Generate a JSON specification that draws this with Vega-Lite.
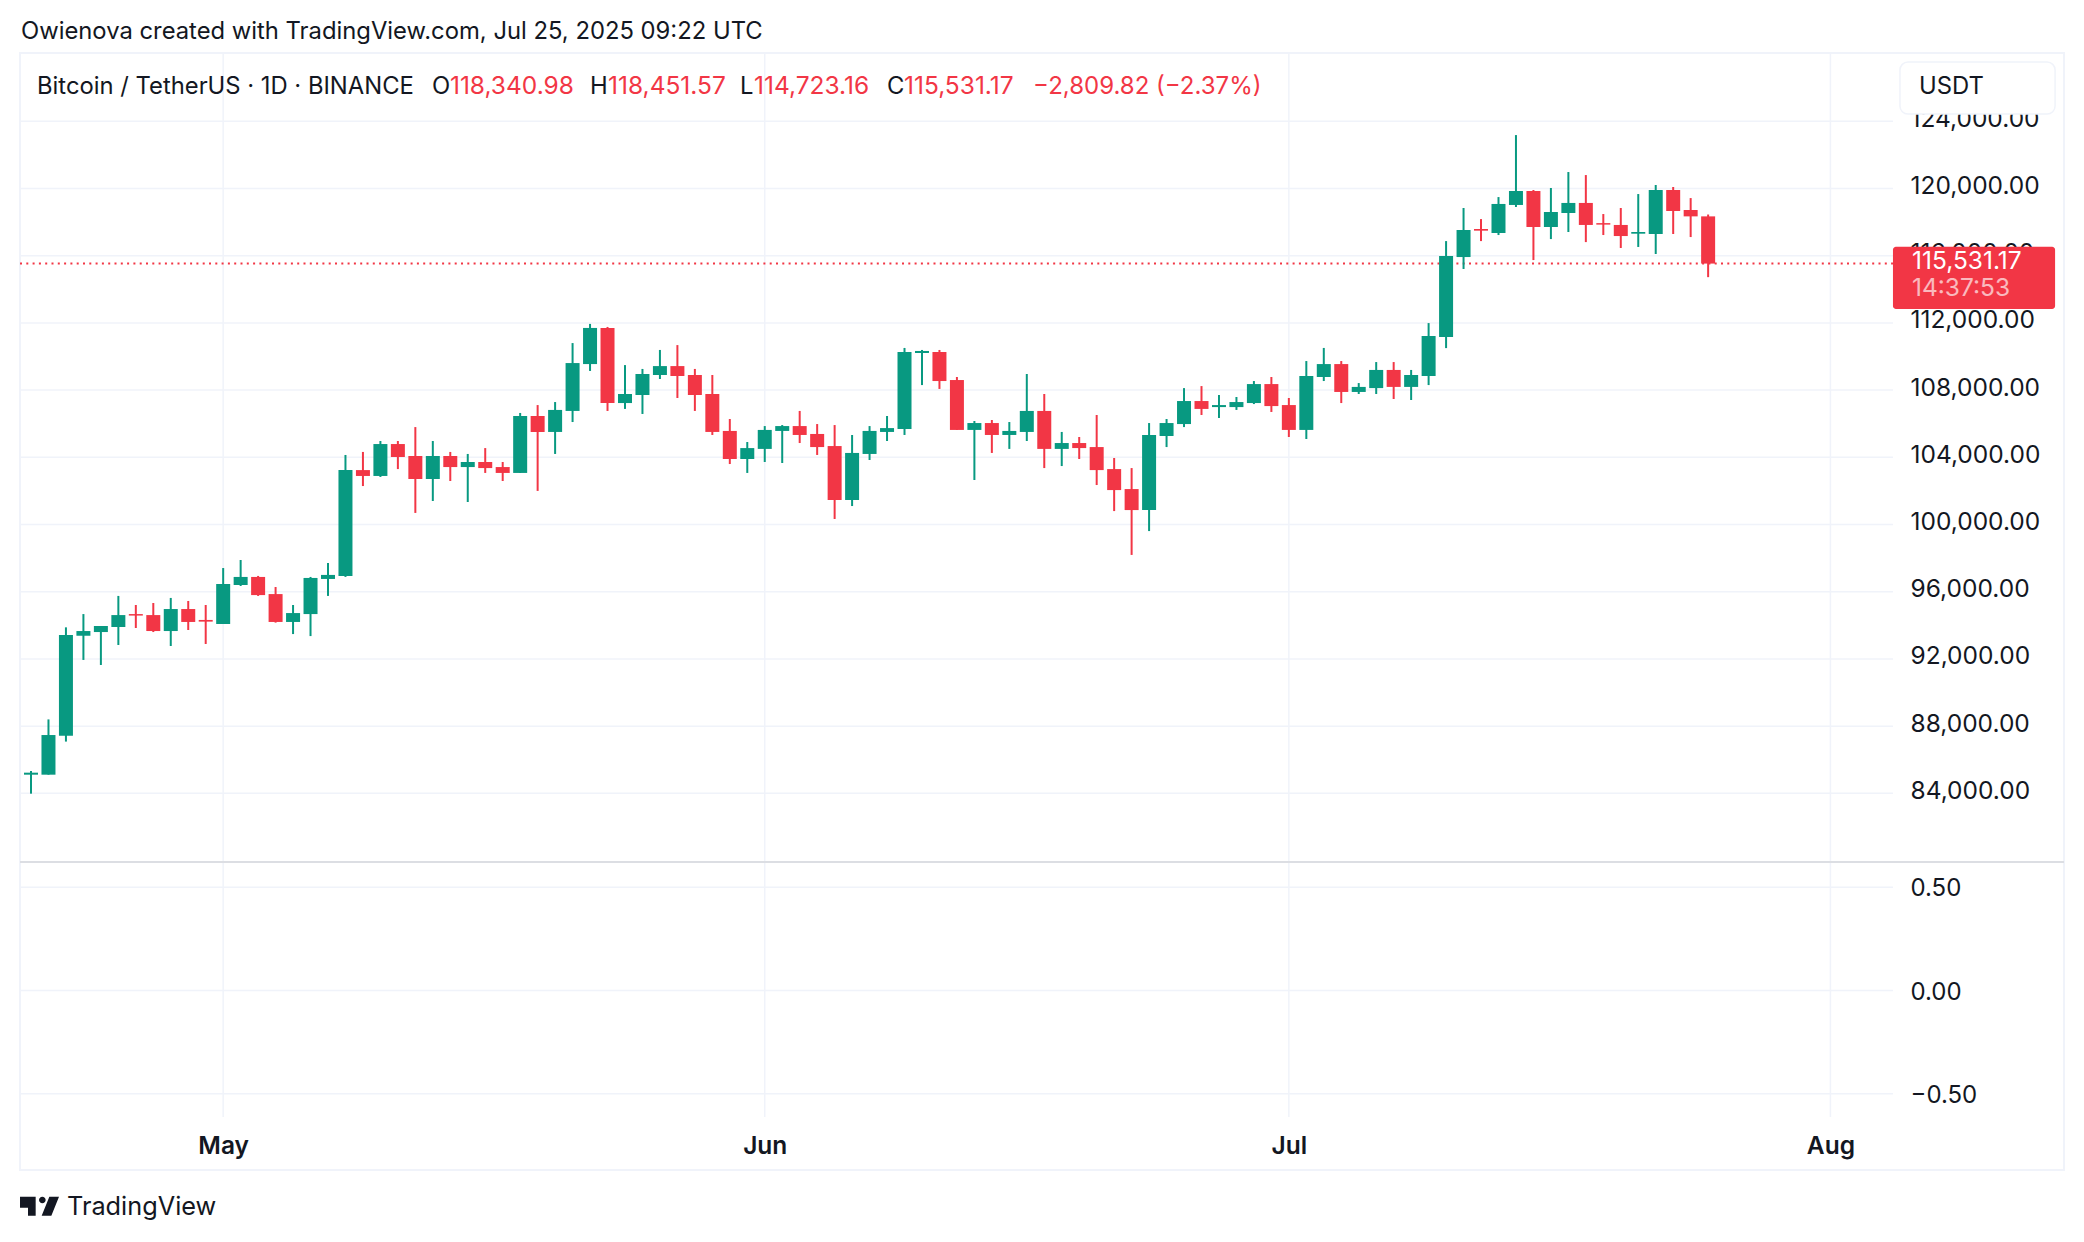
{
  "$schema": "https://vega.github.io/schema/vega-lite/v6.json",
  "background": "white",
  "padding": {"left": 18, "top": 19, "right": 19, "bottom": 20},
  "spacing": 0,
  "bounds": "flush",
  "config": {
    "view": {"stroke": "#f0f3fa", "strokeWidth": 2},
    "font": "Inter",
    "text": {"font": "Inter", "fontSize": 23.8, "color": "#131722", "align": "left", "baseline": "middle"}
  },
  "datasets": {
    "candles": [
      {"date":"2025-04-20","open":85110,"high":85330,"low":83980,"close":85230},
      {"date":"2025-04-21","open":85110,"high":88400,"low":85110,"close":87470},
      {"date":"2025-04-22","open":87430,"high":93880,"low":87080,"close":93420},
      {"date":"2025-04-23","open":93380,"high":94670,"low":91940,"close":93660},
      {"date":"2025-04-24","open":93600,"high":93960,"low":91640,"close":93960},
      {"date":"2025-04-25","open":93900,"high":95750,"low":92830,"close":94610},
      {"date":"2025-04-26","open":94670,"high":95210,"low":93840,"close":94580},
      {"date":"2025-04-27","open":94610,"high":95330,"low":93600,"close":93660},
      {"date":"2025-04-28","open":93660,"high":95630,"low":92770,"close":94970},
      {"date":"2025-04-29","open":94970,"high":95450,"low":93720,"close":94200},
      {"date":"2025-04-30","open":94320,"high":95210,"low":92890,"close":94220},
      {"date":"2025-05-01","open":94080,"high":97410,"low":94080,"close":96460},
      {"date":"2025-05-02","open":96400,"high":97890,"low":96340,"close":96880},
      {"date":"2025-05-03","open":96880,"high":96940,"low":95750,"close":95800},
      {"date":"2025-05-04","open":95860,"high":96280,"low":94160,"close":94200},
      {"date":"2025-05-05","open":94200,"high":95210,"low":93480,"close":94730},
      {"date":"2025-05-06","open":94670,"high":96880,"low":93360,"close":96820},
      {"date":"2025-05-07","open":96760,"high":97710,"low":95750,"close":97000},
      {"date":"2025-05-08","open":96940,"high":104140,"low":96880,"close":103240},
      {"date":"2025-05-09","open":103240,"high":104320,"low":102290,"close":102890},
      {"date":"2025-05-10","open":102890,"high":104970,"low":102830,"close":104790},
      {"date":"2025-05-11","open":104790,"high":104970,"low":103300,"close":104020},
      {"date":"2025-05-12","open":104080,"high":105800,"low":100690,"close":102710},
      {"date":"2025-05-13","open":102710,"high":104970,"low":101400,"close":104080},
      {"date":"2025-05-14","open":104080,"high":104320,"low":102590,"close":103420},
      {"date":"2025-05-15","open":103420,"high":104200,"low":101340,"close":103720},
      {"date":"2025-05-16","open":103720,"high":104550,"low":103070,"close":103360},
      {"date":"2025-05-17","open":103420,"high":103720,"low":102590,"close":103070},
      {"date":"2025-05-18","open":103070,"high":106640,"low":103070,"close":106460},
      {"date":"2025-05-19","open":106460,"high":107110,"low":102000,"close":105510},
      {"date":"2025-05-20","open":105510,"high":107290,"low":104200,"close":106820},
      {"date":"2025-05-21","open":106760,"high":110800,"low":106100,"close":109610},
      {"date":"2025-05-22","open":109550,"high":111940,"low":109140,"close":111700},
      {"date":"2025-05-23","open":111700,"high":111760,"low":106760,"close":107230},
      {"date":"2025-05-24","open":107230,"high":109490,"low":106880,"close":107770},
      {"date":"2025-05-25","open":107710,"high":109260,"low":106580,"close":108960},
      {"date":"2025-05-26","open":108900,"high":110390,"low":108660,"close":109430},
      {"date":"2025-05-27","open":109430,"high":110680,"low":107530,"close":108840},
      {"date":"2025-05-28","open":108900,"high":109260,"low":106760,"close":107710},
      {"date":"2025-05-29","open":107770,"high":108900,"low":105330,"close":105510},
      {"date":"2025-05-30","open":105570,"high":106280,"low":103600,"close":103900},
      {"date":"2025-05-31","open":103900,"high":104910,"low":103070,"close":104550},
      {"date":"2025-06-01","open":104500,"high":105860,"low":103720,"close":105630},
      {"date":"2025-06-02","open":105570,"high":105920,"low":103660,"close":105860},
      {"date":"2025-06-03","open":105860,"high":106760,"low":104850,"close":105330},
      {"date":"2025-06-04","open":105390,"high":105980,"low":104140,"close":104610},
      {"date":"2025-06-05","open":104670,"high":105920,"low":100330,"close":101460},
      {"date":"2025-06-06","open":101460,"high":105330,"low":101100,"close":104260},
      {"date":"2025-06-07","open":104200,"high":105860,"low":103840,"close":105570},
      {"date":"2025-06-08","open":105510,"high":106460,"low":104970,"close":105740},
      {"date":"2025-06-09","open":105690,"high":110510,"low":105330,"close":110270},
      {"date":"2025-06-10","open":110210,"high":110390,"low":108300,"close":110330},
      {"date":"2025-06-11","open":110270,"high":110390,"low":108070,"close":108540},
      {"date":"2025-06-12","open":108600,"high":108780,"low":105630,"close":105630},
      {"date":"2025-06-13","open":105630,"high":106160,"low":102650,"close":106040},
      {"date":"2025-06-14","open":106040,"high":106220,"low":104260,"close":105330},
      {"date":"2025-06-15","open":105330,"high":106100,"low":104500,"close":105570},
      {"date":"2025-06-16","open":105510,"high":108960,"low":104970,"close":106760},
      {"date":"2025-06-17","open":106760,"high":107770,"low":103360,"close":104500},
      {"date":"2025-06-18","open":104500,"high":105510,"low":103480,"close":104850},
      {"date":"2025-06-19","open":104850,"high":105210,"low":103900,"close":104550},
      {"date":"2025-06-20","open":104610,"high":106520,"low":102350,"close":103240},
      {"date":"2025-06-21","open":103300,"high":103960,"low":100800,"close":102050},
      {"date":"2025-06-22","open":102110,"high":103360,"low":98190,"close":100860},
      {"date":"2025-06-23","open":100860,"high":106040,"low":99610,"close":105330},
      {"date":"2025-06-24","open":105270,"high":106280,"low":104610,"close":106040},
      {"date":"2025-06-25","open":105980,"high":108120,"low":105800,"close":107350},
      {"date":"2025-06-26","open":107350,"high":108240,"low":106520,"close":106880},
      {"date":"2025-06-27","open":106990,"high":107710,"low":106340,"close":107110},
      {"date":"2025-06-28","open":106990,"high":107590,"low":106820,"close":107290},
      {"date":"2025-06-29","open":107230,"high":108540,"low":107170,"close":108360},
      {"date":"2025-06-30","open":108360,"high":108780,"low":106700,"close":107050},
      {"date":"2025-07-01","open":107110,"high":107530,"low":105210,"close":105630},
      {"date":"2025-07-02","open":105630,"high":109730,"low":105090,"close":108840},
      {"date":"2025-07-03","open":108780,"high":110510,"low":108540,"close":109550},
      {"date":"2025-07-04","open":109550,"high":109730,"low":107230,"close":107890},
      {"date":"2025-07-05","open":107890,"high":108420,"low":107770,"close":108190},
      {"date":"2025-07-06","open":108120,"high":109670,"low":107770,"close":109200},
      {"date":"2025-07-07","open":109200,"high":109670,"low":107470,"close":108190},
      {"date":"2025-07-08","open":108190,"high":109200,"low":107410,"close":108900},
      {"date":"2025-07-09","open":108840,"high":111990,"low":108300,"close":111220},
      {"date":"2025-07-10","open":111160,"high":116870,"low":110500,"close":115980},
      {"date":"2025-07-11","open":115920,"high":118840,"low":115210,"close":117530},
      {"date":"2025-07-12","open":117590,"high":118180,"low":116870,"close":117490},
      {"date":"2025-07-13","open":117350,"high":119490,"low":117230,"close":119080},
      {"date":"2025-07-14","open":119020,"high":123180,"low":118900,"close":119850},
      {"date":"2025-07-15","open":119850,"high":119910,"low":115740,"close":117710},
      {"date":"2025-07-16","open":117710,"high":120030,"low":116990,"close":118600},
      {"date":"2025-07-17","open":118540,"high":120980,"low":117410,"close":119140},
      {"date":"2025-07-18","open":119140,"high":120800,"low":116810,"close":117830},
      {"date":"2025-07-19","open":117940,"high":118480,"low":117230,"close":117850},
      {"date":"2025-07-20","open":117830,"high":118840,"low":116460,"close":117170},
      {"date":"2025-07-21","open":117310,"high":119670,"low":116520,"close":117410},
      {"date":"2025-07-22","open":117290,"high":120210,"low":116100,"close":119910},
      {"date":"2025-07-23","open":119910,"high":120090,"low":117290,"close":118660},
      {"date":"2025-07-24","open":118720,"high":119430,"low":117110,"close":118340.98},
      {"date":"2025-07-25","open":118340.98,"high":118451.57,"low":114723.16,"close":115531.17}
    ],
    "months": [{"date":"2025-05-01"},{"date":"2025-06-01"},{"date":"2025-07-01"},{"date":"2025-08-01"}],
    "priceLevels": [{"price":84000},{"price":88000},{"price":92000},{"price":96000},{"price":100000},{"price":104000},{"price":108000},{"price":112000},{"price":116000},{"price":120000},{"price":124000}],
    "lowerLevels": [{"level":0.5},{"level":0},{"level":-0.5}]
  },
  "vconcat": [
    {
      "width": 2044,
      "height": 809,
      "layer": [
        {
          "data": {"name": "priceLevels"},
          "mark": {"type": "rule", "color": "#f0f3fa", "strokeWidth": 1.5},
          "encoding": {
            "x": {"datum": {"year":2025,"month":4,"date":19,"hours":8,"minutes":53,"utc":true}, "type": "temporal", "axis": null, "scale": {"type": "utc", "nice": false, "padding": 0, "domain": ["2025-04-19T08:53:00Z", "2025-08-14T08:53:00Z"]}},
            "x2": {"datum": {"year":2025,"month":8,"date":4,"hours":13,"minutes":55,"utc":true}},
            "y": {
              "field": "price", "type": "quantitative",
              "scale": {"domain": [79913, 128065], "nice": false, "zero": false},
              "axis": {"orient": "right", "offset": -154, "title": null, "values": [84000,88000,92000,96000,100000,104000,108000,112000,116000,120000,124000], "format": ",.2f", "grid": false, "ticks": false, "domain": false, "labelPadding": 0, "labelAlign": "left", "labelFont": "Inter", "labelFontSize": 24.5, "labelColor": "#131722", "labelOffset": -2, "labelOverlap": false, "labelBound": false, "labelFlush": false}
            }
          }
        },
        {
          "data": {"name": "months"},
          "mark": {"type": "rule", "color": "#f0f3fa", "strokeWidth": 1.5},
          "encoding": {"x": {"field": "date", "type": "temporal", "axis": null}}
        },
        {
          "data": {"values": [{"price": 115531.17}]},
          "mark": {"type": "rule", "color": "#F23645", "strokeWidth": 2, "strokeDash": [2, 4.3]},
          "encoding": {
            "x": {"datum": {"year":2025,"month":4,"date":19,"hours":8,"minutes":53,"utc":true}, "type": "temporal", "axis": null},
            "x2": {"datum": {"year":2025,"month":8,"date":4,"hours":13,"minutes":55,"utc":true}},
            "y": {"field": "price", "type": "quantitative", "title": null}
          }
        },
        {
          "data": {"name": "candles"},
          "mark": {"type": "rule", "strokeWidth": 2},
          "encoding": {
            "x": {"field": "date", "type": "temporal", "axis": null},
            "y": {"field": "low", "type": "quantitative", "title": null},
            "y2": {"field": "high"},
            "color": {"condition": {"test": "datum.close >= datum.open", "value": "#089981"}, "value": "#F23645"}
          }
        },
        {
          "data": {"name": "candles"},
          "mark": {"type": "bar", "size": 14},
          "encoding": {
            "x": {"field": "date", "type": "temporal", "axis": null},
            "y": {"field": "open", "type": "quantitative", "title": null},
            "y2": {"field": "close"},
            "color": {"condition": {"test": "datum.close >= datum.open", "value": "#089981"}, "value": "#F23645"}
          }
        },
        {
          "data": {"values": [{"label": "USDT box"}]},
          "mark": {"type": "rect", "fill": "white", "stroke": "#f0f3fa", "strokeWidth": 1.5, "cornerRadius": 8},
          "encoding": {
            "x": {"datum": {"year":2025,"month":8,"date":4,"hours":23,"minutes":31,"utc":true}, "type": "temporal", "axis": null},
            "x2": {"datum": {"year":2025,"month":8,"date":13,"hours":20,"minutes":38,"utc":true}},
            "y": {"datum": 127528, "title": null},
            "y2": {"datum": 124433}
          }
        },
        {
          "data": {"values": [{"label": "USDT"}]},
          "mark": {"type": "text"},
          "encoding": {"x": {"datum": {"year":2025,"month":8,"date":6,"hours":1,"minutes":41,"utc":true}, "type": "temporal", "axis": null}, "y": {"datum": 126040, "title": null}, "text": {"field": "label"}}
        },
        {
          "data": {"values": [{"label": "last price tag"}]},
          "mark": {"type": "rect", "fill": "#F23645", "cornerRadius": 3},
          "encoding": {
            "x": {"datum": {"year":2025,"month":8,"date":4,"hours":13,"minutes":55,"utc":true}, "type": "temporal", "axis": null},
            "x2": {"datum": {"year":2025,"month":8,"date":13,"hours":20,"minutes":38,"utc":true}},
            "y": {"datum": 116535, "title": null},
            "y2": {"datum": 112827}
          }
        },
        {
          "data": {"values": [{"label": "115,531.17"}]},
          "mark": {"type": "text", "color": "white", "fontSize": 24.5},
          "encoding": {"x": {"datum": {"year":2025,"month":8,"date":5,"hours":16,"minutes":5,"utc":true}, "type": "temporal", "axis": null}, "y": {"datum": 115642, "title": null}, "text": {"field": "label"}}
        },
        {
          "data": {"values": [{"label": "14:37:53"}]},
          "mark": {"type": "text", "color": "white", "opacity": 0.65, "fontSize": 24.5},
          "encoding": {"x": {"datum": {"year":2025,"month":8,"date":5,"hours":16,"minutes":5,"utc":true}, "type": "temporal", "axis": null}, "y": {"datum": 114017, "title": null}, "text": {"field": "label"}}
        },
        {
          "data": {"values": [{"label": "Owienova created with TradingView.com, Jul 25, 2025 09:22 UTC"}]},
          "mark": {"type": "text"},
          "encoding": {"x": {"datum": {"year":2025,"month":4,"date":19,"hours":10,"minutes":16,"utc":true}, "type": "temporal", "axis": null}, "y": {"datum": 129313, "title": null}, "text": {"field": "label"}}
        },
        {
          "data": {"values": [{"label": "Bitcoin / TetherUS · 1D · BINANCE"}]},
          "mark": {"type": "text"},
          "encoding": {"x": {"datum": {"year":2025,"month":4,"date":20,"hours":8,"minutes":14,"utc":true}, "type": "temporal", "axis": null}, "y": {"datum": 126040, "title": null}, "text": {"field": "label"}}
        },
        {
          "data": {"values": [{"label": "O"}]},
          "mark": {"type": "text"},
          "encoding": {"x": {"datum": {"year":2025,"month":5,"date":12,"hours":22,"minutes":48,"utc":true}, "type": "temporal", "axis": null}, "y": {"datum": 126040, "title": null}, "text": {"field": "label"}}
        },
        {
          "data": {"values": [{"label": "118,340.98"}]},
          "mark": {"type": "text", "color": "#F23645", "fontSize": 24.5},
          "encoding": {"x": {"datum": {"year":2025,"month":5,"date":13,"hours":23,"minutes":31,"utc":true}, "type": "temporal", "axis": null}, "y": {"datum": 126040, "title": null}, "text": {"field": "label"}}
        },
        {
          "data": {"values": [{"label": "H"}]},
          "mark": {"type": "text"},
          "encoding": {"x": {"datum": {"year":2025,"month":5,"date":22,"hours":0,"minutes":0,"utc":true}, "type": "temporal", "axis": null}, "y": {"datum": 126040, "title": null}, "text": {"field": "label"}}
        },
        {
          "data": {"values": [{"label": "118,451.57"}]},
          "mark": {"type": "text", "color": "#F23645", "fontSize": 24.5},
          "encoding": {"x": {"datum": {"year":2025,"month":5,"date":23,"hours":0,"minutes":43,"utc":true}, "type": "temporal", "axis": null}, "y": {"datum": 126040, "title": null}, "text": {"field": "label"}}
        },
        {
          "data": {"values": [{"label": "L"}]},
          "mark": {"type": "text"},
          "encoding": {"x": {"datum": {"year":2025,"month":5,"date":30,"hours":13,"minutes":55,"utc":true}, "type": "temporal", "axis": null}, "y": {"datum": 126040, "title": null}, "text": {"field": "label"}}
        },
        {
          "data": {"values": [{"label": "114,723.16"}]},
          "mark": {"type": "text", "color": "#F23645", "fontSize": 24.5},
          "encoding": {"x": {"datum": {"year":2025,"month":5,"date":31,"hours":9,"minutes":21,"utc":true}, "type": "temporal", "axis": null}, "y": {"datum": 126040, "title": null}, "text": {"field": "label"}}
        },
        {
          "data": {"values": [{"label": "C"}]},
          "mark": {"type": "text"},
          "encoding": {"x": {"datum": {"year":2025,"month":6,"date":8,"hours":0,"minutes":0,"utc":true}, "type": "temporal", "axis": null}, "y": {"datum": 126040, "title": null}, "text": {"field": "label"}}
        },
        {
          "data": {"values": [{"label": "115,531.17"}]},
          "mark": {"type": "text", "color": "#F23645", "fontSize": 24.5},
          "encoding": {"x": {"datum": {"year":2025,"month":6,"date":8,"hours":23,"minutes":17,"utc":true}, "type": "temporal", "axis": null}, "y": {"datum": 126040, "title": null}, "text": {"field": "label"}}
        },
        {
          "data": {"values": [{"label": "−2,809.82 (−2.37%)"}]},
          "mark": {"type": "text", "color": "#F23645", "fontSize": 24},
          "encoding": {"x": {"datum": {"year":2025,"month":6,"date":16,"hours":8,"minutes":38,"utc":true}, "type": "temporal", "axis": null}, "y": {"datum": 126040, "title": null}, "text": {"field": "label"}}
        }
      ]
    },
    {
      "width": 2044,
      "height": 308,
      "layer": [
        {
          "data": {"name": "months"},
          "mark": {"type": "rule", "color": "#f0f3fa", "strokeWidth": 1.5},
          "encoding": {
            "x": {
              "field": "date", "type": "temporal",
              "scale": {"type": "utc", "nice": false, "padding": 0, "domain": ["2025-04-19T08:53:00Z", "2025-08-14T08:53:00Z"]},
              "axis": {"title": null, "offset": -53, "tickCount": {"interval": "month", "step": 1}, "format": "%b", "grid": false, "ticks": false, "domain": false, "labelBaseline": "middle", "labelPadding": 29, "labelFont": "Inter", "labelFontSize": 24.5, "labelFontWeight": 600, "labelColor": "#131722", "labelOverlap": false, "labelFlush": false, "labelBound": false}
            },
            "y": {
              "datum": 0.6226,
              "scale": {"domain": [-0.8697, 0.6226], "nice": false, "zero": false},
              "axis": {"orient": "right", "offset": -154, "title": null, "values": [0.5, 0, -0.5], "format": ".2f", "grid": false, "ticks": false, "domain": false, "labelPadding": 0, "labelAlign": "left", "labelFont": "Inter", "labelFontSize": 24, "labelColor": "#131722", "labelOffset": 1.5, "labelOverlap": false, "labelBound": false, "labelFlush": false}
            },
            "y2": {"datum": -0.6129}
          }
        },
        {
          "data": {"name": "lowerLevels"},
          "mark": {"type": "rule", "color": "#f0f3fa", "strokeWidth": 1.5},
          "encoding": {
            "x": {"datum": {"year":2025,"month":4,"date":19,"hours":8,"minutes":53,"utc":true}, "type": "temporal", "title": null},
            "x2": {"datum": {"year":2025,"month":8,"date":4,"hours":13,"minutes":55,"utc":true}},
            "y": {"field": "level", "type": "quantitative", "title": null}
          }
        },
        {
          "data": {"values": [{"label": "pane separator"}]},
          "mark": {"type": "rule", "color": "#dcdee3", "strokeWidth": 2},
          "encoding": {"y": {"datum": 0.6226, "title": null}}
        },
        {
          "data": {"values": [{"label": "TradingView"}]},
          "mark": {"type": "text", "fontSize": 25.3},
          "encoding": {"x": {"datum": {"year":2025,"month":4,"date":22,"hours":1,"minutes":26,"utc":true}, "type": "temporal", "title": null}, "y": {"datum": -1.049, "title": null}, "text": {"field": "label"}}
        },
        {
          "data": {"values": [{"label": "logo"}]},
          "mark": {"type": "point", "filled": true, "color": "#131722", "opacity": 1, "size": 1521, "strokeWidth": 0, "shape": "M-1,-0.487 L-0.197,-0.487 L-0.197,0.487 L-0.59,0.487 L-0.59,0.085 L-1,0.085 Z M0.315,-0.316 A0.17,0.17 0 1 1 -0.025,-0.316 A0.17,0.17 0 1 1 0.315,-0.316 Z M0.504,-0.487 L1,-0.487 L0.607,0.487 L0.111,0.487 Z"},
          "encoding": {"x": {"datum": {"year":2025,"month":4,"date":20,"hours":11,"minutes":41,"utc":true}, "type": "temporal", "title": null}, "y": {"datum": -1.045, "title": null}}
        }
      ]
    }
  ]
}
